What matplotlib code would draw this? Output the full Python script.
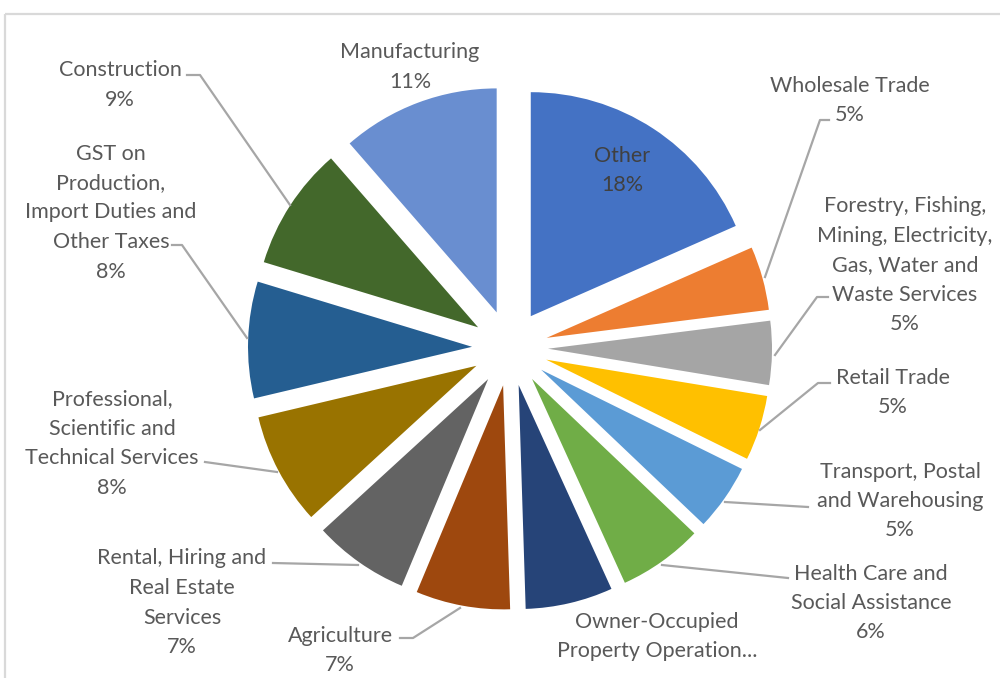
import matplotlib
matplotlib.use("Agg")
import matplotlib.pyplot as plt

plt.rcParams['font.family'] = ['Lato', 'DejaVu Sans']

# ---- data ----
categories = [
    "Other", "Wholesale Trade",
    "Forestry, Fishing,\nMining, Electricity,\nGas, Water and\nWaste Services",
    "Retail Trade", "Transport, Postal\nand Warehousing",
    "Health Care and\nSocial Assistance", "Owner-Occupied\nProperty Operation...",
    "Agriculture", "Rental, Hiring and\nReal Estate\nServices",
    "Professional,\nScientific and\nTechnical Services",
    "GST on\nProduction,\nImport Duties and\nOther Taxes",
    "Construction", "Manufacturing",
]
values = [18.4, 4.6, 4.6, 4.7, 4.8, 6.1, 6.3, 6.8, 6.9, 8.1, 8.4, 8.9, 11.4]
show_pct = [True, True, True, True, True, True, False, True, True, True, True, True, True]
colors = ["#4472C4", "#ED7D31", "#A5A5A5", "#FFC000", "#5B9BD5", "#70AD47",
          "#264478", "#9E480E", "#636363", "#997300", "#255E91", "#43682B", "#698ED0"]

# ---- layout (pixel coordinates, y from top) ----
W, H = 1000, 678
def py(y):
    return H - y

# label anchor: (center x, first line cap-center y)
label_pos = [(622, 154), (850, 84), (905, 205), (893, 376), (900, 470),
             (871, 572), (657, 620), (340, 634), (182, 557), (112, 398),
             (111, 152), (120, 69), (410, 51)]
line_step = 29.5
leaders = [
    None,
    [(829, 120), (820, 120), (765, 277)],
    [(828, 297), (817, 297), (775, 355)],
    [(830, 383), (818, 383), (760, 430)],
    [(808, 507), (725, 502)],
    [(788, 578), (662, 565)],
    None,
    [(400, 638), (413, 638), (460, 608)],
    [(273, 563), (358, 565)],
    [(205, 462), (277, 472)],
    [(172, 245), (182, 245), (247, 338)],
    [(187, 75), (200, 75), (290, 205)],
    None,
]

fig = plt.figure(figsize=(10, 6.78), dpi=100)
ax = fig.add_axes([0, 0, 1, 1])

ax.pie(values, colors=colors, startangle=90, counterclock=False,
       radius=224, center=(510, py(348)), explode=[38] * len(values),
       wedgeprops=dict(linewidth=0))

ax.set_xlim(0, W)
ax.set_ylim(0, H)
ax.set_aspect('equal')
ax.axis('off')

# chart frame
ax.plot([5, 5], [0, py(14)], color="#d9d9d9", lw=1.6, solid_capstyle='butt')
ax.plot([5, W], [py(14), py(14)], color="#d9d9d9", lw=1.6, solid_capstyle='butt')

total = sum(values)
for i, (cat, v) in enumerate(zip(categories, values)):
    lines = cat.split("\n")
    if show_pct[i]:
        lines.append(f"{v / total * 100:.0f}%")
    cx, cy = label_pos[i]
    color = "#404040" if i == 0 else "#595959"
    for k, ln in enumerate(lines):
        ax.text(cx, py(cy + k * line_step + 7.5), ln, ha='center', va='baseline',
                fontsize=15.5, color=color)
    if leaders[i]:
        xs = [p[0] for p in leaders[i]]
        ys = [py(p[1]) for p in leaders[i]]
        ax.plot(xs, ys, color="#a6a6a6", lw=1.6)

fig.savefig("out.png", dpi=100)
